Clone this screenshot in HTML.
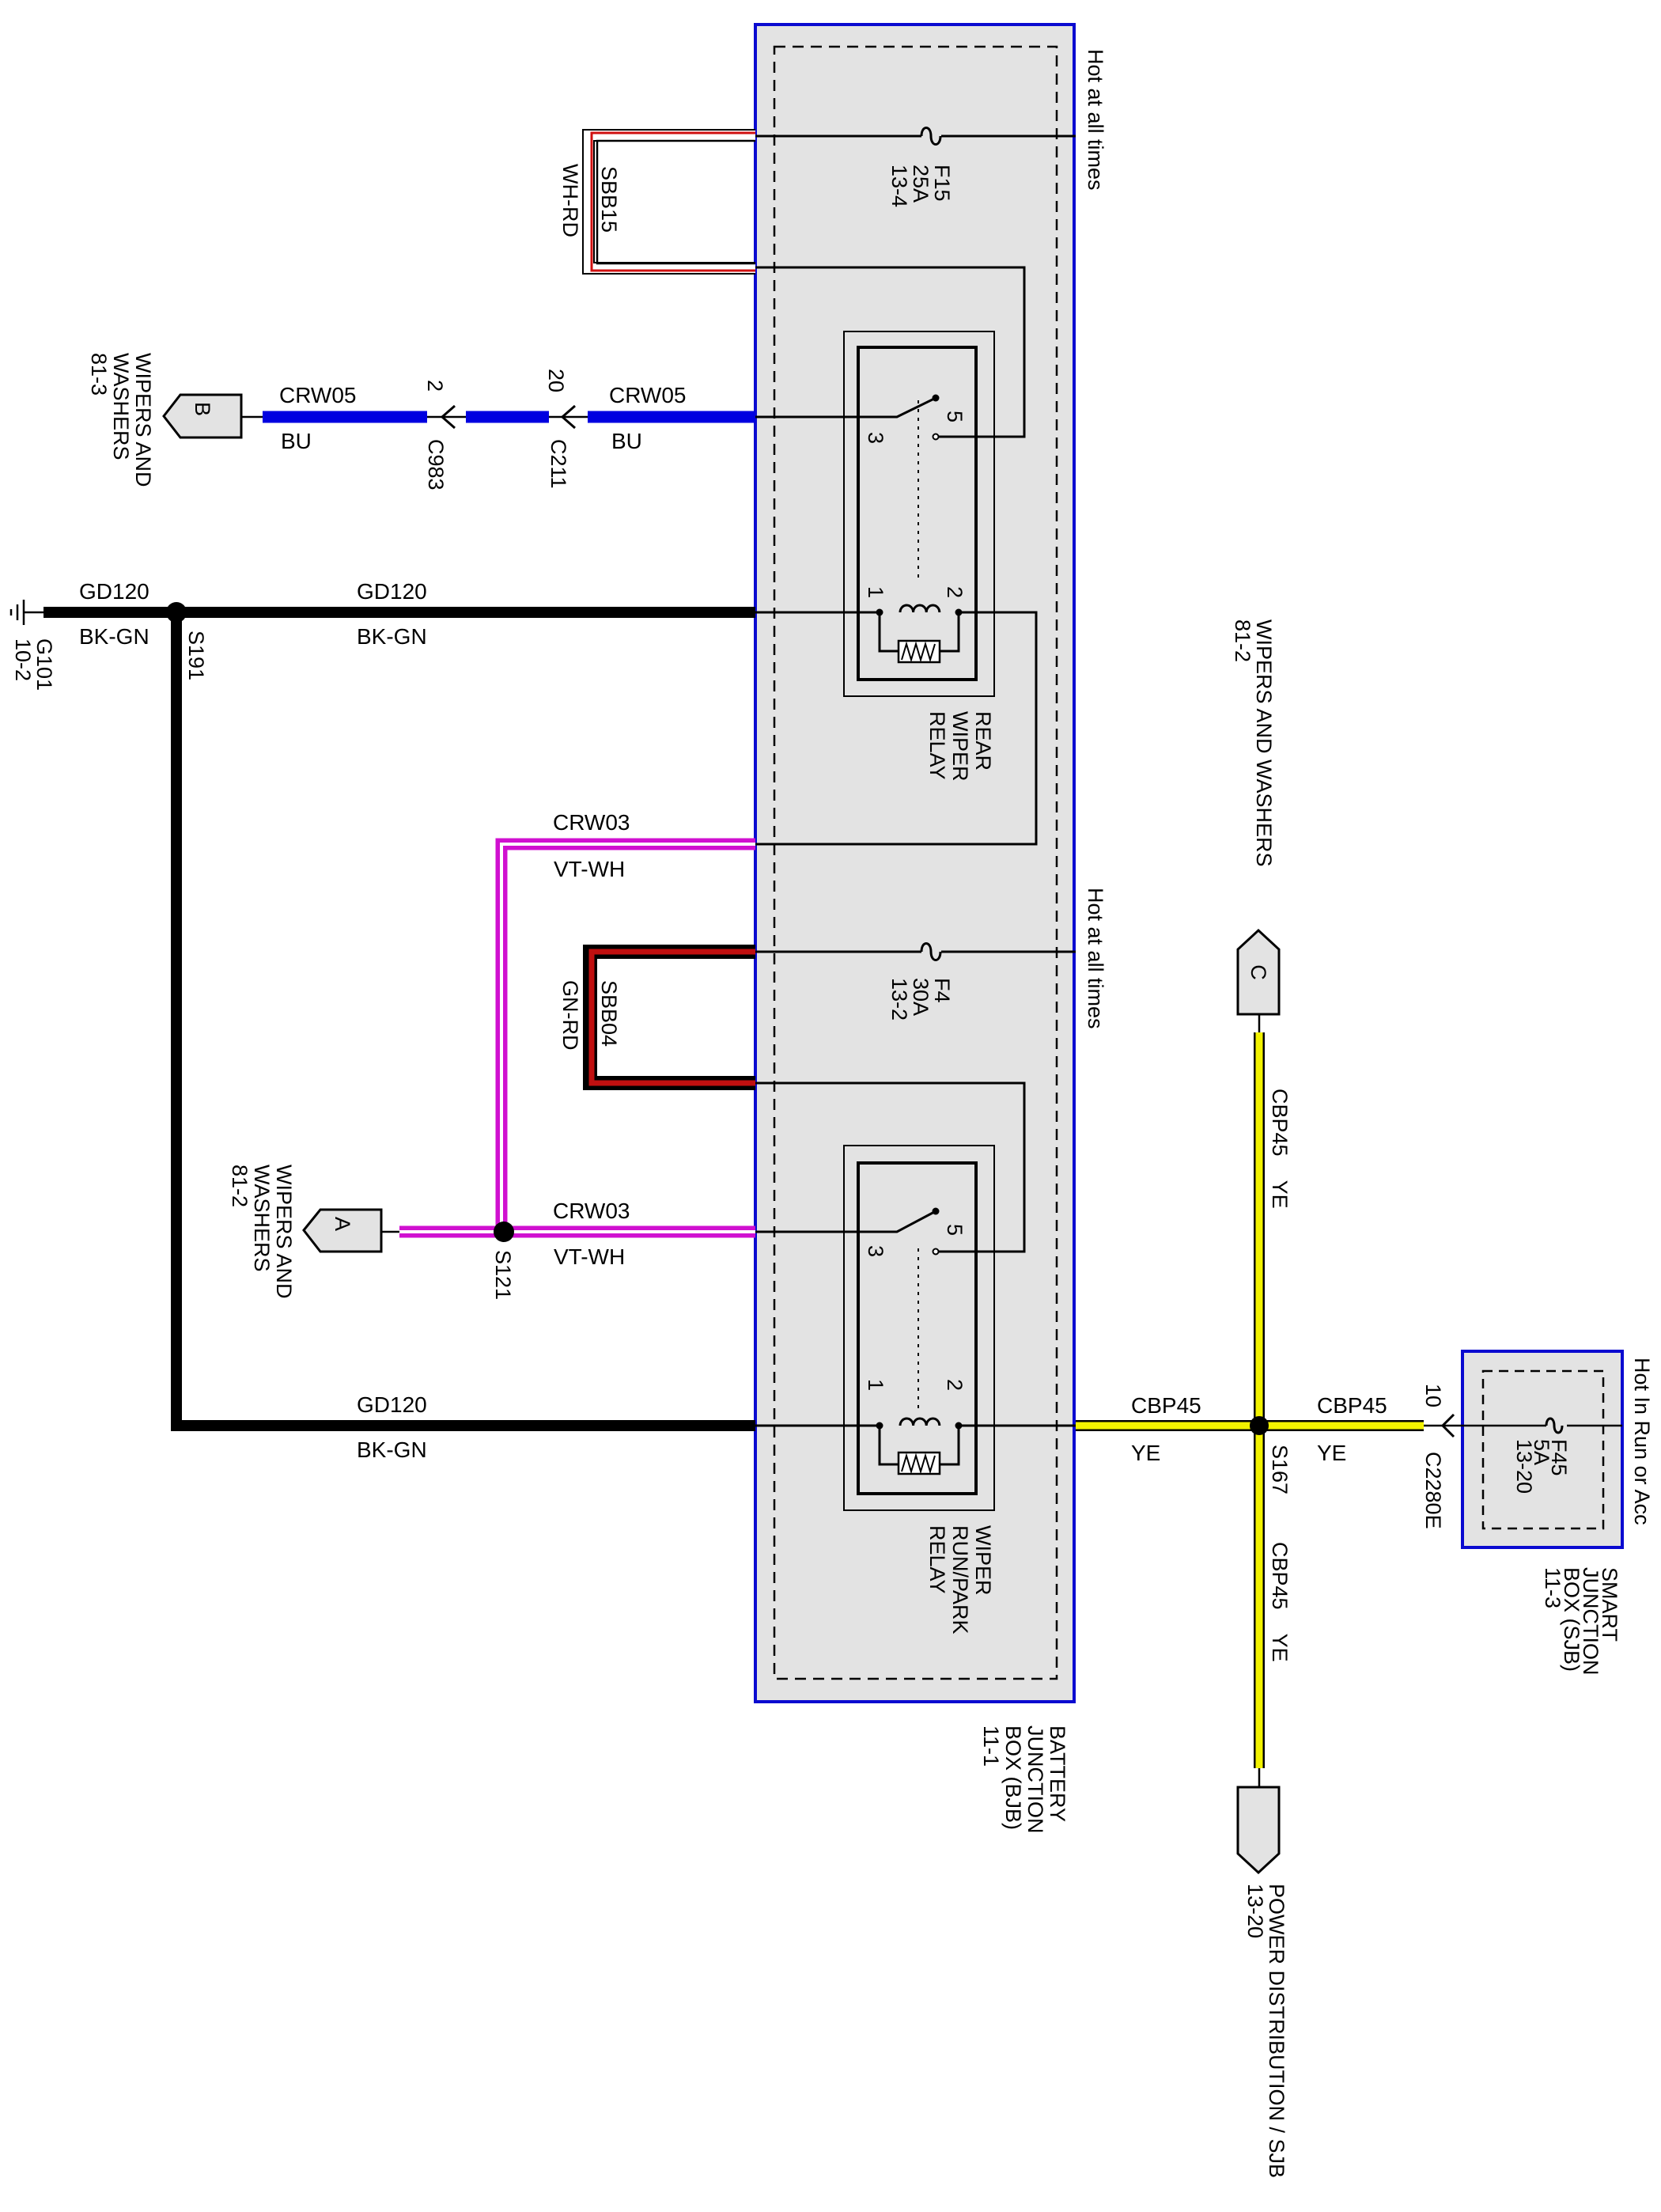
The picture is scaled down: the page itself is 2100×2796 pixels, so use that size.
<!DOCTYPE html>
<html><head><meta charset="utf-8"><style>
html,body{margin:0;padding:0;background:#fff}
svg{display:block}
text{font-family:"Liberation Sans",sans-serif;fill:#000}
.l{font-size:28px}
.r{font-size:27px}
</style></head><body>
<svg width="2100" height="2796" viewBox="0 0 2100 2796" xmlns="http://www.w3.org/2000/svg">
<!-- BJB box -->
<rect x="955" y="31" width="403" height="2120" fill="#e3e3e3" stroke="#0a0ad0" stroke-width="4"/>
<rect x="979" y="59" width="357" height="2063" fill="none" stroke="#000" stroke-width="2.5" stroke-dasharray="14,9"/>
<!-- SJB box -->
<rect x="1849" y="1708" width="202" height="248" fill="#e3e3e3" stroke="#0a0ad0" stroke-width="4"/>
<rect x="1875" y="1733" width="152" height="199" fill="none" stroke="#000" stroke-width="2.5" stroke-dasharray="12,8"/>

<!-- SBB15 WH-RD loop -->
<path d="M955,171 H744 V339 H955" fill="none" stroke="#000" stroke-width="16"/>
<path d="M955,171 H744 V339 H955" fill="none" stroke="#fff" stroke-width="12"/>
<path d="M955,168 H748 V342 H955" fill="none" stroke="#d01010" stroke-width="3"/>
<path d="M955,178 H755 V333 H955" fill="none" stroke="#000" stroke-width="2.5"/>
<!-- SBB04 GN-RD loop -->
<path d="M955,1203 H746 V1369 H955" fill="none" stroke="#000" stroke-width="18"/>
<path d="M955,1203 H748 V1369 H955" fill="none" stroke="#c01010" stroke-width="7"/>

<!-- internal thin lines -->
<g fill="none" stroke="#000" stroke-width="3">
<path d="M955,172 H1165 M1190,172 H1360"/>
<path d="M1165,172 c0,-14 12,-14 12,0 s12,14 12,0"/>
<path d="M955,1203 H1165 M1190,1203 H1360"/>
<path d="M1165,1203 c0,-14 12,-14 12,0 s12,14 12,0"/>
<path d="M955,338 H1295 V552 H1186"/>
<path d="M955,1369 H1295 V1582 H1186"/>
<path d="M955,527 H1134 L1183,503"/>
<path d="M955,1557 H1134 L1183,1531"/>
<path d="M955,774 H1112 M1212,774 H1310 V1067 H955"/>
<path d="M955,1802 H1112 M1212,1802 H1360"/>
<path d="M1112,774 V823 H1212 V774"/>
<path d="M1112,1802 V1851 H1212 V1802"/>
<path d="M1138,774 a8.3,9 0 0 1 16.6,0 a8.3,9 0 0 1 16.6,0 a8.3,9 0 0 1 16.6,0"/>
<path d="M1138,1802 a8.3,9 0 0 1 16.6,0 a8.3,9 0 0 1 16.6,0 a8.3,9 0 0 1 16.6,0"/>
</g>
<g fill="#fff" stroke="#000" stroke-width="2.5">
<rect x="1136" y="810" width="52" height="27"/>
<rect x="1136" y="1836" width="52" height="27"/>
</g>
<g fill="none" stroke="#000" stroke-width="2">
<path d="M1140,834 l6,-20 l6,20 l6,-20 l6,20 l6,-20 l6,20 l6,-20"/>
<path d="M1140,1860 l6,-20 l6,20 l6,-20 l6,20 l6,-20 l6,20 l6,-20"/>
<path d="M1161,506 V733 M1161,1578 V1784" stroke-dasharray="4,7"/>
<rect x="1067" y="419" width="190" height="461"/>
<rect x="1067" y="1448" width="190" height="461"/>
</g>
<g fill="none" stroke="#000" stroke-width="4">
<rect x="1085" y="439" width="149" height="420"/>
<rect x="1085" y="1470" width="149" height="418"/>
</g>
<g fill="#fff" stroke="#000" stroke-width="2">
<circle cx="1183" cy="552" r="3.5"/><circle cx="1183" cy="1582" r="3.5"/>
</g>
<g fill="#000">
<circle cx="1183" cy="503" r="4.5"/><circle cx="1183" cy="1531" r="4.5"/>
<circle cx="1112" cy="774" r="4.5"/><circle cx="1212" cy="774" r="4.5"/>
<circle cx="1112" cy="1802" r="4.5"/><circle cx="1212" cy="1802" r="4.5"/>
</g>

<!-- CRW05 blue -->
<path d="M305,527 H955" stroke="#000" stroke-width="2.5"/>
<g stroke="#0000e0" stroke-width="15">
<path d="M332,527 H540 M589,527 H694 M743,527 H955"/>
</g>
<g fill="none" stroke="#000" stroke-width="3">
<path d="M575,513 L559,527 L575,541"/>
<path d="M727,513 L711,527 L727,541"/>
</g>
<!-- connector B -->
<path d="M207,526 L228,499 H305 V553 H228 Z" fill="#e3e3e3" stroke="#000" stroke-width="3"/>

<!-- GD120 -->
<path d="M55,774 H955 M223,774 V1802 H955" fill="none" stroke="#000" stroke-width="14"/>
<circle cx="223" cy="774" r="13" fill="#000"/>
<path d="M55,774 H30 M30,758 V790 M22,764 V784 M14,770 V778" stroke="#000" stroke-width="2.5" fill="none"/>

<!-- CRW03 magenta -->
<path d="M955,1067 H634 V1557" fill="none" stroke="#d010d0" stroke-width="15"/>
<path d="M955,1067 H634 V1557" fill="none" stroke="#fff" stroke-width="4"/>
<path d="M505,1557 H955" stroke="#d010d0" stroke-width="15"/>
<path d="M505,1557 H955" stroke="#fff" stroke-width="4"/>
<path d="M482,1557 H505" stroke="#000" stroke-width="2.5"/>
<circle cx="637" cy="1557" r="13" fill="#000"/>
<path d="M384,1555 L405,1529 H482 V1582 H405 Z" fill="#e3e3e3" stroke="#000" stroke-width="3"/>

<!-- CBP45 yellow -->
<g stroke="#000" stroke-width="14"><path d="M1592,1305 V2235 M1360,1802 H1800"/></g>
<g stroke="#f2f200" stroke-width="9"><path d="M1592,1305 V2235 M1360,1802 H1800"/></g>
<path d="M1592,1282 V1305 M1592,2235 V2259 M1800,1802 H2051" stroke="#000" stroke-width="2.5"/>
<path d="M1838,1788 L1824,1802 L1838,1816" fill="none" stroke="#000" stroke-width="3"/>
<circle cx="1592" cy="1802" r="12" fill="#000"/>
<rect x="1955" y="1794" width="26" height="16" fill="#e3e3e3"/>
<path d="M1955,1802 c0,-12 10,-12 10,0 s10,12 10,0" fill="none" stroke="#000" stroke-width="3"/>
<path d="M1565,1282 V1200 L1591,1176 L1617,1200 V1282 Z" fill="#e3e3e3" stroke="#000" stroke-width="3"/>
<path d="M1565,2259 V2343 L1591,2367 L1617,2343 V2259 Z" fill="#e3e3e3" stroke="#000" stroke-width="3"/>

<!-- horizontal labels -->
<g class="l">
<text x="353" y="509">CRW05</text><text x="355" y="567">BU</text>
<text x="770" y="509">CRW05</text><text x="773" y="567">BU</text>
<text x="100" y="757">GD120</text><text x="100" y="814">BK-GN</text>
<text x="451" y="757">GD120</text><text x="451" y="814">BK-GN</text>
<text x="699" y="1049">CRW03</text><text x="700" y="1108">VT-WH</text>
<text x="699" y="1540">CRW03</text><text x="700" y="1598">VT-WH</text>
<text x="451" y="1785">GD120</text><text x="451" y="1842">BK-GN</text>
<text x="1430" y="1786">CBP45</text><text x="1430" y="1846">YE</text>
<text x="1665" y="1786">CBP45</text><text x="1665" y="1846">YE</text>
</g>

<!-- rotated labels -->
<g class="r">
<text transform="translate(1376,62) rotate(90)">Hot at all times</text>
<text transform="translate(1376,1122) rotate(90)">Hot at all times</text>
<text transform="translate(1182,208) rotate(90)"><tspan x="0">F15</tspan><tspan x="0" dy="27">25A</tspan><tspan x="0" dy="27">13-4</tspan></text>
<text transform="translate(1182,1236) rotate(90)"><tspan x="0">F4</tspan><tspan x="0" dy="27">30A</tspan><tspan x="0" dy="27">13-2</tspan></text>
<text transform="translate(761,210) rotate(90)">SBB15</text>
<text transform="translate(712,207) rotate(90)">WH-RD</text>
<text transform="translate(761,1239) rotate(90)">SBB04</text>
<text transform="translate(712,1239) rotate(90)">GN-RD</text>
<text transform="translate(541,480) rotate(90)">2</text>
<text transform="translate(542,555) rotate(90)">C983</text>
<text transform="translate(694,466) rotate(90)">20</text>
<text transform="translate(697,555) rotate(90)">C211</text>
<text transform="translate(172,446) rotate(90)"><tspan x="0">WIPERS AND</tspan><tspan x="0" dy="28">WASHERS</tspan><tspan x="0" dy="28">81-3</tspan></text>
<text transform="translate(350,1472) rotate(90)"><tspan x="0">WIPERS AND</tspan><tspan x="0" dy="28">WASHERS</tspan><tspan x="0" dy="28">81-2</tspan></text>
<text transform="translate(1589,783) rotate(90)"><tspan x="0">WIPERS AND WASHERS</tspan><tspan x="0" dy="27">81-2</tspan></text>
<text transform="translate(239,797) rotate(90)">S191</text>
<text transform="translate(47,807) rotate(90)"><tspan x="0">G101</tspan><tspan x="0" dy="27">10-2</tspan></text>
<text transform="translate(627,1580) rotate(90)">S121</text>
<text transform="translate(1198,519) rotate(90)">5</text>
<text transform="translate(1098,546) rotate(90)">3</text>
<text transform="translate(1098,741) rotate(90)">1</text>
<text transform="translate(1198,741) rotate(90)">2</text>
<text transform="translate(1198,1547) rotate(90)">5</text>
<text transform="translate(1098,1574) rotate(90)">3</text>
<text transform="translate(1098,1743) rotate(90)">1</text>
<text transform="translate(1198,1743) rotate(90)">2</text>
<text transform="translate(1234,899) rotate(90)"><tspan x="0">REAR</tspan><tspan x="0" dy="29">WIPER</tspan><tspan x="0" dy="29">RELAY</tspan></text>
<text transform="translate(1234,1928) rotate(90)"><tspan x="0">WIPER</tspan><tspan x="0" dy="29">RUN/PARK</tspan><tspan x="0" dy="29">RELAY</tspan></text>
<text transform="translate(1328,2181) rotate(90)"><tspan x="0">BATTERY</tspan><tspan x="0" dy="28">JUNCTION</tspan><tspan x="0" dy="28">BOX (BJB)</tspan><tspan x="0" dy="28">11-1</tspan></text>
<text transform="translate(1609,1376) rotate(90)">CBP45<tspan dx="30">YE</tspan></text>
<text transform="translate(1609,1949) rotate(90)">CBP45<tspan dx="30">YE</tspan></text>
<text transform="translate(1609,1826) rotate(90)">S167</text>
<text transform="translate(1803,1749) rotate(90)">10</text>
<text transform="translate(1803,1835) rotate(90)">C2280E</text>
<text transform="translate(1962,1819) rotate(90)"><tspan x="0">F45</tspan><tspan x="0" dy="22">5A</tspan><tspan x="0" dy="22">13-20</tspan></text>
<text transform="translate(2067,1716) rotate(90)">Hot In Run or Acc</text>
<text transform="translate(2026,1981) rotate(90)"><tspan x="0">SMART</tspan><tspan x="0" dy="24">JUNCTION</tspan><tspan x="0" dy="24">BOX (SJB)</tspan><tspan x="0" dy="24">11-3</tspan></text>
<text transform="translate(1605,2381) rotate(90)"><tspan x="0">POWER DISTRIBUTION / SJB</tspan><tspan x="0" dy="27">13-20</tspan></text>
<text transform="translate(247,517) rotate(90)" text-anchor="middle">B</text>
<text transform="translate(424,1547) rotate(90)" text-anchor="middle">A</text>
<text transform="translate(1582,1229) rotate(90)" text-anchor="middle">C</text>
</g>
</svg>
</body></html>
